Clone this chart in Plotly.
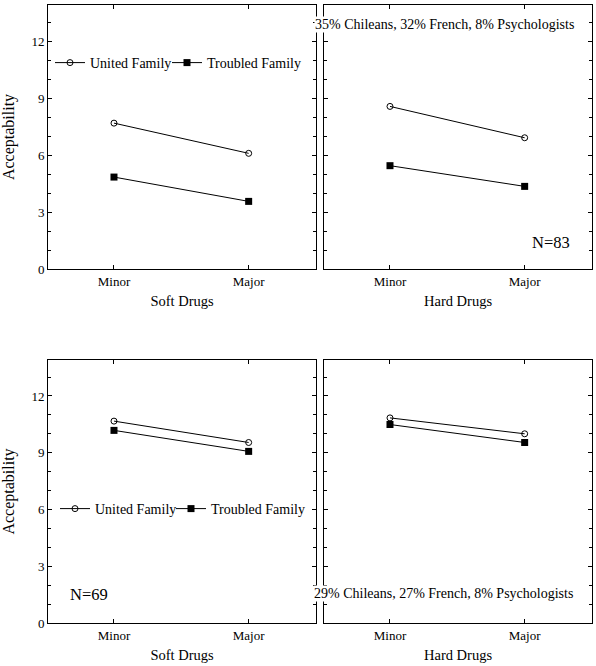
import plotly.graph_objects as go

# values
levels = ['Minor', 'Major']
panels = ['Soft Drugs', 'Hard Drugs']

united_top_soft = [7.68, 6.09]
troubled_top_soft = [4.84, 3.56]
united_top_hard = [8.56, 6.91]
troubled_top_hard = [5.44, 4.35]

united_bot_soft = [10.67, 9.54]
troubled_bot_soft = [10.18, 9.07]
united_bot_hard = [10.84, 10.0]
troubled_bot_hard = [10.49, 9.54]

y_ticks = [0, 3, 6, 9, 12]

# positions below are measured on the 596x666 reference; the captured page
# comes out squeezed a little vertically, so the figure is drawn a bit taller
REF_W, REF_H = 596, 666
W, H = 596, 674
FONT = '"Liberation Serif", "Times New Roman", Times, serif'

def px(x):
    return x / REF_W

def py(y):
    return 1 - y / REF_H

fig = go.Figure()

panel_setup = [
    # (xaxis id, yaxis id, united, troubled, legend for united, legend for troubled)
    ('x', 'y', united_top_soft, troubled_top_soft, 'legend', 'legend3'),
    ('x2', 'y2', united_top_hard, troubled_top_hard, None, None),
    ('x3', 'y3', united_bot_soft, troubled_bot_soft, 'legend2', 'legend4'),
    ('x4', 'y4', united_bot_hard, troubled_bot_hard, None, None),
]

for xa, ya, uni, trb, leg_u, leg_t in panel_setup:
    fig.add_trace(go.Scatter(
        x=[0, 1], y=uni, mode='lines+markers', name='United Family',
        xaxis=xa, yaxis=ya, line=dict(color='black', width=1),
        marker=dict(symbol='circle-open', size=6, color='black', line=dict(width=1)),
        showlegend=leg_u is not None, legend=leg_u or 'legend'))
    fig.add_trace(go.Scatter(
        x=[0, 1], y=trb, mode='lines+markers', name='Troubled Family',
        xaxis=xa, yaxis=ya, line=dict(color='black', width=1),
        marker=dict(symbol='square', size=7, color='black'),
        showlegend=leg_t is not None, legend=leg_t or 'legend'))

xdoms = [[px(48), px(316)], [px(324), px(592)]]
ydoms = [[py(269), py(5)], [py(623), py(360)]]

common_x = dict(range=[-0.49, 1.5], tickvals=[0, 1], ticktext=levels,
                showline=True, mirror='ticks', linecolor='black', linewidth=1,
                ticks='inside', ticklen=4, tickcolor='black', showgrid=False,
                zeroline=False, tickfont=dict(family=FONT, size=13, color='black'),
                ticklabelstandoff=0,
                title_font=dict(family=FONT, size=14.5, color='black'))
common_y = dict(range=[0, 13.9], tickvals=y_ticks,
                showline=True, mirror='ticks', linecolor='black', linewidth=1,
                ticks='inside', ticklen=4, tickcolor='black', showgrid=False,
                zeroline=False, tickfont=dict(family=FONT, size=13, color='black'),
                minor=dict(ticks='inside', dtick=1, ticklen=3, tickcolor='black'),
                title_font=dict(family=FONT, size=16, color='black'))

names = ['', '2', '3', '4']
for i, n in enumerate(names):
    col = i % 2
    row = i // 2
    xax = dict(common_x, domain=xdoms[col], anchor='y' + n,
               title=dict(text=panels[col], standoff=8))
    yax = dict(common_y, domain=ydoms[row], anchor='x' + n)
    if col == 0:
        yax['title'] = dict(text='Acceptability', standoff=12)
    else:
        yax['showticklabels'] = False
    fig.update_layout(**{'xaxis' + n: xax, 'yaxis' + n: yax})

legend_style = dict(orientation='h', bgcolor='rgba(0,0,0,0)',
                    font=dict(family=FONT, size=14, color='black'),
                    xanchor='left', yanchor='middle', itemwidth=30)

def note(text, x, y, size, bg=None):
    return dict(text=text, xref='paper', yref='paper', x=px(x), y=py(y),
                xanchor='center', yanchor='middle', showarrow=False,
                bgcolor=bg, borderpad=0,
                font=dict(family=FONT, size=size, color='black'))

fig.update_layout(
    width=W, height=H,
    margin=dict(l=0, r=0, t=0, b=0),
    paper_bgcolor='white', plot_bgcolor='white',
    font=dict(family=FONT, color='black'),
    legend=dict(legend_style, x=px(50), y=py(63)),
    legend3=dict(legend_style, x=px(167), y=py(63)),
    legend2=dict(legend_style, x=px(55), y=py(509)),
    legend4=dict(legend_style, x=px(171), y=py(509)),
    annotations=[
        note('35% Chileans, 32% French, 8% Psychologists', 445, 25, 14, 'white'),
        note('N=83', 551, 242, 16.5),
        note('N=69', 89, 594, 16.5),
        note('29% Chileans, 27% French, 8% Psychologists', 443, 593, 14, 'white'),
    ],
)

# no body margin, no extra line space under the figure
pin = """
document.documentElement.style.margin='0';
document.body.style.margin='0';
document.body.style.lineHeight='0';
document.body.style.fontSize='0';
document.documentElement.style.overflow='hidden';
document.body.style.overflow='hidden';
"""
fig.write_html('out.html', config={'displayModeBar': False}, post_script=pin)
